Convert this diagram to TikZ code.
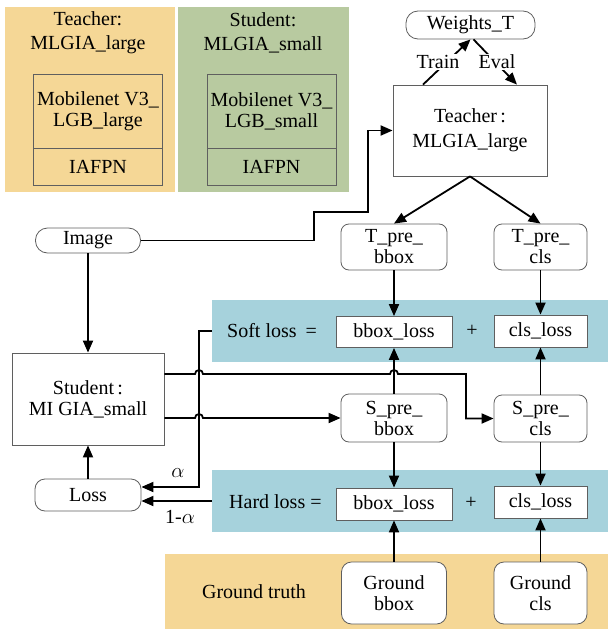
\documentclass[tikz,border=0pt]{standalone}
\usepackage{fontspec}
\setmainfont{Liberation Serif}
\usetikzlibrary{arrows.meta,calc}
\definecolor{orangebg}{RGB}{245,215,150}
\definecolor{greenbg}{RGB}{184,202,160}
\definecolor{bluebg}{RGB}{166,210,220}
\definecolor{boxgray}{RGB}{95,95,95}
\begin{document}
\begin{tikzpicture}[x=1pt,y=-1pt,
  font=\fontsize{20}{21}\selectfont,
  box/.style={draw=boxgray, line width=0.8pt, fill=white, align=center, inner sep=0pt},
  rbox/.style={box, rounded corners=8pt},
  frame/.style={draw=boxgray, line width=0.8pt, align=center, inner sep=0pt},
  band/.style={inner sep=0pt, draw=none},
  txt/.style={align=center, inner sep=0pt},
  arr/.style={line width=1.8pt, -{Triangle[length=12pt,width=10pt]}},
  ln/.style={line width=1.8pt}]
\useasboundingbox (0,0) rectangle (608,629);

% top-left legend panels
\node[band, fill=orangebg, minimum width=170pt, minimum height=185pt] (tpanel) at (90,99.5) {};
\node[band, fill=greenbg, minimum width=171pt, minimum height=185pt] (spanel) at (263.5,99.5) {};
\node[txt] (tptitle) at (88,33) {Teacher:\\[3pt]MLGIA\_large};
\node[txt] (sptitle) at (263,33) {Student:\\[3pt]MLGIA\_small};
\node[frame, minimum width=129pt, minimum height=74pt] (mobT) at (98,111) {Mobilenet V3\_\\LGB\_large};
\node[frame, minimum width=129pt, minimum height=37pt] (iafT) at (98,166.5) {IAFPN};
\node[frame, minimum width=129pt, minimum height=74pt] (mobS) at (271.5,111) {Mobilenet V3\_\\LGB\_small};
\node[frame, minimum width=129pt, minimum height=37pt] (iafS) at (271.5,166.5) {IAFPN};

% bands
\node[band, fill=bluebg, minimum width=396pt, minimum height=62pt] (softbg) at (410,331) {};
\node[band, fill=bluebg, minimum width=396pt, minimum height=62pt] (hardbg) at (410,501) {};
\node[band, fill=orangebg, minimum width=443pt, minimum height=75pt] (gtbg) at (386.5,591.5) {};

% main nodes
\node[box, rounded corners=12pt, minimum width=129pt, minimum height=28pt] (weights) at (470.5,25) {Weights\_T};
\node[box, minimum width=154pt, minimum height=91pt] (teacher) at (470,130.5) {Teacher\,:\\[4pt]MLGIA\_large};
\node[box, rounded corners=12pt, minimum width=105pt, minimum height=25pt] (image) at (88,240.5) {Image};
\node[rbox, minimum width=106pt, minimum height=46pt] (tpb) at (394,247) {T\_pre\_\\bbox};
\node[rbox, minimum width=93pt, minimum height=46pt] (tpc) at (540.5,247) {T\_pre\_\\cls};

\node[txt, anchor=west] (softtxt) at (227,331) {Soft loss\hspace{9pt}=};
\node[box, minimum width=116pt, minimum height=31pt] (sbl) at (394,332) {bbox\_loss};
\node[txt] (plus1) at (472,331) {+};
\node[box, minimum width=93pt, minimum height=32pt] (scl) at (540.5,331) {cls\_loss};

\node[box, minimum width=152pt, minimum height=92pt] (student) at (88,399) {Student\,:\\MI GIA\_small};
\node[rbox, minimum width=106pt, minimum height=48pt] (spb) at (394,418) {S\_pre\_\\bbox};
\node[rbox, minimum width=93pt, minimum height=47pt] (spc) at (540.5,418.5) {S\_pre\_\\cls};

\node[box, rounded corners=10pt, minimum width=106pt, minimum height=32pt] (loss) at (88,495) {Loss};

\node[txt, anchor=west] (hardtxt) at (229,502) {Hard loss =};
\node[box, minimum width=116pt, minimum height=32pt] (hbl) at (394,504) {bbox\_loss};
\node[txt] (plus2) at (471,503) {+};
\node[box, minimum width=93pt, minimum height=32pt] (hcl) at (540.5,502) {cls\_loss};

\node[txt] (gttxt) at (254,592) {Ground truth};
\node[box, rounded corners=10pt, minimum width=105pt, minimum height=62pt] (gb) at (394,593) {Ground\\bbox};
\node[box, rounded corners=10pt, minimum width=93pt, minimum height=62pt] (gc) at (540.5,593) {Ground\\cls};

% Train / Eval
\draw[arr] ([xshift=-47pt]teacher.north) -- (weights.south);
\draw[arr] ([xshift=3pt]weights.south) -- ([xshift=47pt]teacher.north);
\node[fill=white, inner sep=1pt] (trainlbl) at (438,62) {Train};
\node[fill=white, inner sep=1pt] (evallbl) at (497,62) {Eval};

% image to teacher and student
\draw[arr] (image.east) -| (314,212) -| ($(teacher.west)+(-25,0)$) -- (teacher.west);
\draw[arr] (image.south) -- (student.north);

% teacher outputs
\draw[arr] (teacher.south) -- (tpb.north);
\draw[arr] (teacher.south) -- (tpc.north);
\draw[arr] (tpb.south) -- (sbl.north);
\draw[arr] (tpc.south) -- (scl.north);

% student preds
\draw[arr] (spb.north) -- (sbl.south);
\draw[arr] (spb.south) -- (hbl.north);
\draw[arr] (spc.north) -- (scl.south);
\draw[arr] (spc.south) -- (hcl.north);

% ground truth
\draw[arr] (gb.north) -- (hbl.south);
\draw[arr] (gc.north) -- (hcl.south);

% losses to Loss
\draw[arr] (softbg.west) -- (199,331) -- (199,487) -- ($(loss.east)+(0,-8)$);
\draw[arr] (hardbg.west) -- (hardbg.west -| loss.east);
\node[txt] (alab) at (178,473) {$\alpha$};
\node[txt] (blab) at (180,517) {1-$\alpha$};
\draw[arr] (loss.north) -- (student.south);

% student outputs with hops
\draw[arr] ($(student.east)+(0,-25)$) -- (195,374) arc[start angle=180,end angle=0,radius=4pt]
  -- (390,374) arc[start angle=180,end angle=0,radius=4pt] -- (466,374) |- (spc.west);
\draw[arr] ($(student.east)+(0,19)$) -- (195,418) arc[start angle=180,end angle=0,radius=4pt] -- (spb.west);
\end{tikzpicture}
\end{document}
